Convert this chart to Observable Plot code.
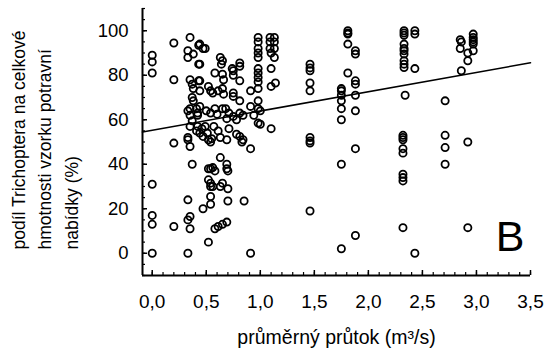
<!DOCTYPE html>
<html><head><meta charset="utf-8">
<script src="https://cdn.jsdelivr.net/npm/d3@7"></script>
<script src="https://cdn.jsdelivr.net/npm/@observablehq/plot@0.6"></script>
<style>body{margin:0;background:#fff}</style>
</head><body><div id="chart"></div>
<script>
// mean discharge (m3/s)
const flow = [
  0,0,0,0,0,0,0,
  0.2,0.2,0.2,0.2,
  0.35,0.33,0.38,0.33,0.43,0.43,0.47,0.35,0.43,0.37,0.38,0.37,0.38,0.35,0.41,0.33,0.42,0.35,0.42,0.37,0.42,0.35,0.41,0.49,0.33,0.35,0.33,0.37,0.33,0.35,0.33,0.35,0.33,
  0.49,0.44,0.63,0.65,0.64,0.81,0.81,0.74,0.75,0.75,0.44,0.58,0.65,0.66,0.81,0.44,0.44,0.52,0.54,0.56,0.61,0.65,0.66,0.75,0.75,0.81,0.91,0.98,
  0.44,0.5,0.54,0.58,0.6,0.65,0.68,0.71,0.75,0.69,0.78,0.81,0.84,0.91,0.94,
  0.46,0.51,0.57,0.61,0.71,0.78,0.81,0.44,0.55,0.69,0.47,0.52,0.54,0.63,0.83,0.84,0.91,
  0.63,0.52,0.54,0.56,0.58,0.69,0.69,0.7,0.52,0.54,0.54,0.56,0.65,0.63,0.7,0.54,0.47,0.54,0.7,0.85,0.58,0.61,0.65,0.69,0.52,0.91,
  0.98,0.98,0.98,0.98,0.98,0.98,0.98,0.98,0.98,0.98,0.98,0.98,1.0,1.0,
  1.09,1.13,1.09,1.13,1.09,1.13,1.1,1.13,1.1,1.1,1.14,1.1,
  1.46,1.46,1.46,1.46,1.46,1.46,1.46,1.46,1.46,
  1.75,1.75,1.75,1.75,1.75,1.75,1.75,1.75,
  1.81,1.81,1.81,1.81,1.88,1.88,1.81,1.88,1.88,1.88,1.88,1.88,1.88,
  2.33,2.33,2.33,2.33,2.33,2.33,2.33,2.33,2.33,2.33,2.34,2.32,2.32,2.32,2.32,2.32,2.32,2.32,2.32,2.32,
  2.43,2.43,2.43,2.43,
  2.71,2.71,2.71,2.71,
  2.85,2.86,2.85,2.92,2.92,2.86,2.97,2.97,2.97,2.97,2.97,2.97,2.92,2.92
];
// share of Trichoptera in total sample weight (%)
const share = [
  89,86,81,31,17,13,0,
  94.5,78,49.5,12,
  97,91,89.5,88,93.5,85,92,78,77.5,76,74,70,68.5,65,65,64,63,62,62,59.5,57,57,55,57,52,48,51,40,24,16.5,15,11,0,
  92,94,88,86.5,85,85.5,84,83,82,80,85,81,80.5,78,77.5,77.5,73,75,73,72,73,74,71.5,72,70.5,68.5,73,74,
  66,64,63,65,62.5,65,65,63,61.5,60.5,60,63,62,66,62,
  56,54,57,55,56,53.5,52.5,54,51.5,51,52.5,51,50,52,50,51,47,
  43,38,38,38.5,37,40,38,37,33,31.5,30,30,31.5,30,29,25.5,20,22,23.5,23.5,11,12,13,14,5,0,
  97,95,92,90,88,83,81,79,77,68.5,65,58.5,64,58,
  97,97,95,95,92,92,90,88,83,75,76.5,56,
  85,83.3,82,76.5,73,52,50.5,49.5,19,
  74,73,71,68.5,65,60,40,2,
  100,99,98.5,94,91,89.5,81,77.5,76,71,64,47,8,
  100,99,98,94,92,91,89.5,86.5,85,83.5,71,53,52,51,47,45,35.5,34,32.5,11.5,
  100,98.5,83,0,
  68.5,53,47.5,40,
  96,95,92,90,86.5,82,98.5,97,96,95,94,91,50,11.5
];
// fitted regression line (end points)
const fitFlow = [-0.09, 3.5];
const fitShare = [54.5, 85.6];

const xDomain = [-0.09, 3.5];
const yDomain = [-10, 110];
const xTicks = [0, 0.5, 1, 1.5, 2, 2.5, 3, 3.5];
const xMinor = d3.range(0, 36).map(i => i / 10);
const yTicks = [0, 20, 40, 60, 80, 100];
const yMinor = d3.range(-10, 111, 5);
const yLabel = "podíl Trichoptera na celkové\nhmotnosti vzorku potravní\nnabídky (%)";
const xLabel = "průměrný průtok (m³/s)";
const panel = "B";

const points = flow.map((x, i) => ({x, y: share[i]}));
const fit = fitFlow.map((x, i) => ({x, y: fitShare[i]}));
const fmt = d => d.toFixed(1).replace(".", ",");

const chart = Plot.plot({
  width: 546, height: 351,
  marginLeft: 142, marginRight: 16, marginTop: 8, marginBottom: 76,
  style: {fontFamily: "'Liberation Sans', Arial, sans-serif", fontSize: "18.5px", background: "white", color: "black"},
  x: {domain: xDomain, label: null},
  y: {domain: yDomain, label: null},
  marks: [
    Plot.axisY(yMinor, {tickSize: -3, tickFormat: () => "", strokeWidth: 1.2}),
    Plot.axisY(yTicks, {tickSize: -5, tickPadding: 19, strokeWidth: 1.5, fontSize: 18.5}),
    Plot.axisX(xMinor, {tickSize: -3, tickFormat: () => "", strokeWidth: 1.2}),
    Plot.axisX(xTicks, {tickSize: -5, tickPadding: 24, tickFormat: fmt, strokeWidth: 1.5, fontSize: 19}),
    Plot.ruleX([xDomain[0]], {strokeWidth: 2}),
    Plot.ruleY([yDomain[0]], {strokeWidth: 2}),
    Plot.line(fit, {x: "x", y: "y", stroke: "black", strokeWidth: 1.6}),
    Plot.dot(points, {x: "x", y: "y", r: 3.6, stroke: "black", strokeWidth: 1.8, fill: "none"}),
    Plot.text([yLabel], {frameAnchor: "bottom-left", rotate: -90, textAnchor: "start", lineHeight: 1.51, dx: -65, dy: -26, fontSize: 17.5}),
    Plot.text([xLabel], {frameAnchor: "bottom", lineAnchor: "bottom", dy: 68, fontSize: 19.5}),
    Plot.text([panel], {frameAnchor: "bottom-right", textAnchor: "end", lineAnchor: "bottom", dx: -6, dy: -25, fontSize: 43})
  ]
});
document.getElementById("chart").appendChild(chart);
</script>
</body></html>
